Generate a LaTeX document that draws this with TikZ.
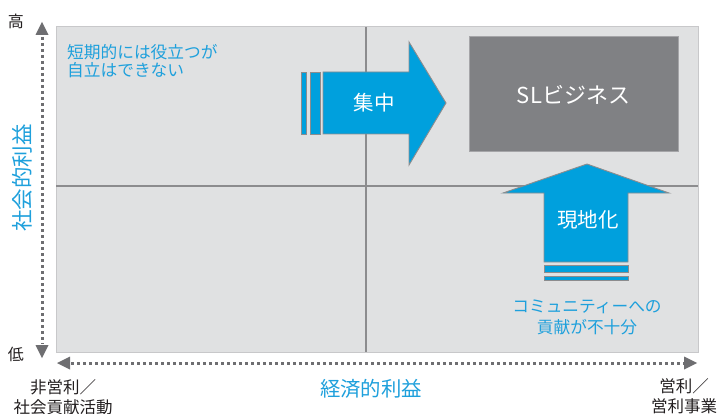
\documentclass[tikz,border=0pt]{standalone}
\usepackage{fontspec}
\setmainfont{Noto Sans CJK JP}
\definecolor{panel}{RGB}{224,225,226}
\definecolor{panelline}{RGB}{200,200,202}
\definecolor{divline}{RGB}{140,140,142}
\definecolor{arrowblue}{RGB}{0,160,221}
\definecolor{textblue}{RGB}{30,160,220}
\definecolor{axisgray}{RGB}{110,110,113}
\definecolor{boxgray}{RGB}{128,129,132}
\definecolor{boxline}{RGB}{165,165,168}
\definecolor{darktext}{RGB}{35,31,32}
\tikzset{
  bluearrow/.style={fill=arrowblue, draw=divline, line width=0.9pt, line join=miter},
  axisdots/.style={draw=axisgray, line width=3pt, dash pattern=on 3pt off 3pt},
  axistip/.style={fill=axisgray, draw=none},
  bluetext/.style={text=textblue, inner sep=0pt},
  darklabel/.style={text=darktext, inner sep=0pt, align=center},
  whitetext/.style={text=white, inner sep=0pt},
}
\begin{document}
\begin{tikzpicture}[x=1pt,y=-1pt]
\useasboundingbox (0,0) rectangle (719,414);
\fill[white] (0,0) rectangle (719,414);
% panel
\draw[fill=panel, draw=panelline, line width=1pt] (56,27) rectangle (698,352);
\coordinate (vt) at (366,27); \coordinate (vb) at (366,352);
\coordinate (hl) at (56,186); \coordinate (hr) at (698,186);
\draw[divline, line width=1.4pt] (vt) -- (vb);
\draw[divline, line width=1.4pt] (hl) -- (hr);
% vertical axis
\coordinate (vaT) at (42,35); \coordinate (vaB) at (42,345);
\draw[axisdots] (42,37) -- (42,344);
\fill[axistip] (42,22) -- (48.5,35) -- (35.5,35) -- cycle;
\fill[axistip] (42,358) -- (48.5,345) -- (35.5,345) -- cycle;
% horizontal axis
\draw[axisdots] (71,363) -- (684,363);
\fill[axistip] (57,363) -- (70,356.5) -- (70,369.5) -- cycle;
\fill[axistip] (697,363) -- (684,356.5) -- (684,369.5) -- cycle;
% SL box
\node[draw=boxline, fill=boxgray, line width=1pt, minimum width=209pt, minimum height=115pt, inner sep=0pt,
      text=white, font=\fontsize{22}{26}\selectfont] (sl) at (573.5,94.5) {SLビジネス};
% 集中 arrow
\draw[bluearrow] (301,72) rectangle (306,134);
\draw[bluearrow] (310,72) rectangle (320,134);
\draw[bluearrow] (323,72) -- (409,72) -- (409,42) -- (446,103) -- (409,165) -- (409,134) -- (323,134) -- cycle;
\node[whitetext, font=\fontsize{20.5}{24}\selectfont] (shuchu) at (374,103) {集中};
% 現地化 arrow
\draw[bluearrow] (544,262) -- (544,193) -- (503,193) -- (587,164) -- (669,193) -- (628,193) -- (628,262) -- cycle;
\draw[bluearrow] (544,265) rectangle (628,272);
\draw[bluearrow] (544,276) rectangle (628,280);
\node[whitetext, font=\fontsize{20.5}{24}\selectfont] (genchi) at (588,220) {現地化};
% blue texts
\node[bluetext, anchor=west, align=left, font=\fontsize{16.7}{18.5}\selectfont] (tanki) at (67,61) {短期的には役立つが\\自立はできない};
\node[bluetext, align=center, font=\fontsize{16.7}{21}\selectfont] (comm) at (587,317.5) {コミュニティーへの\\貢献が不十分};
\node[bluetext, rotate=90, font=\fontsize{21.5}{24}\selectfont] (shakai) at (22,178) {社会的利益};
\node[bluetext, font=\fontsize{20.4}{24}\selectfont] (keizai) at (371,389) {経済的利益};
% dark labels
\node[darklabel, font=\fontsize{16}{19}\selectfont] (high) at (16,21) {高};
\node[darklabel, font=\fontsize{16}{19}\selectfont] (low) at (16,354) {低};
\node[darklabel, font=\fontsize{16.5}{19.5}\selectfont] (hieiri) at (63,397) {非営利／\\社会貢献活動};
\node[darklabel, font=\fontsize{16.5}{19.5}\selectfont] (eiri) at (684,396) {営利／\\営利事業};
\end{tikzpicture}
\end{document}
